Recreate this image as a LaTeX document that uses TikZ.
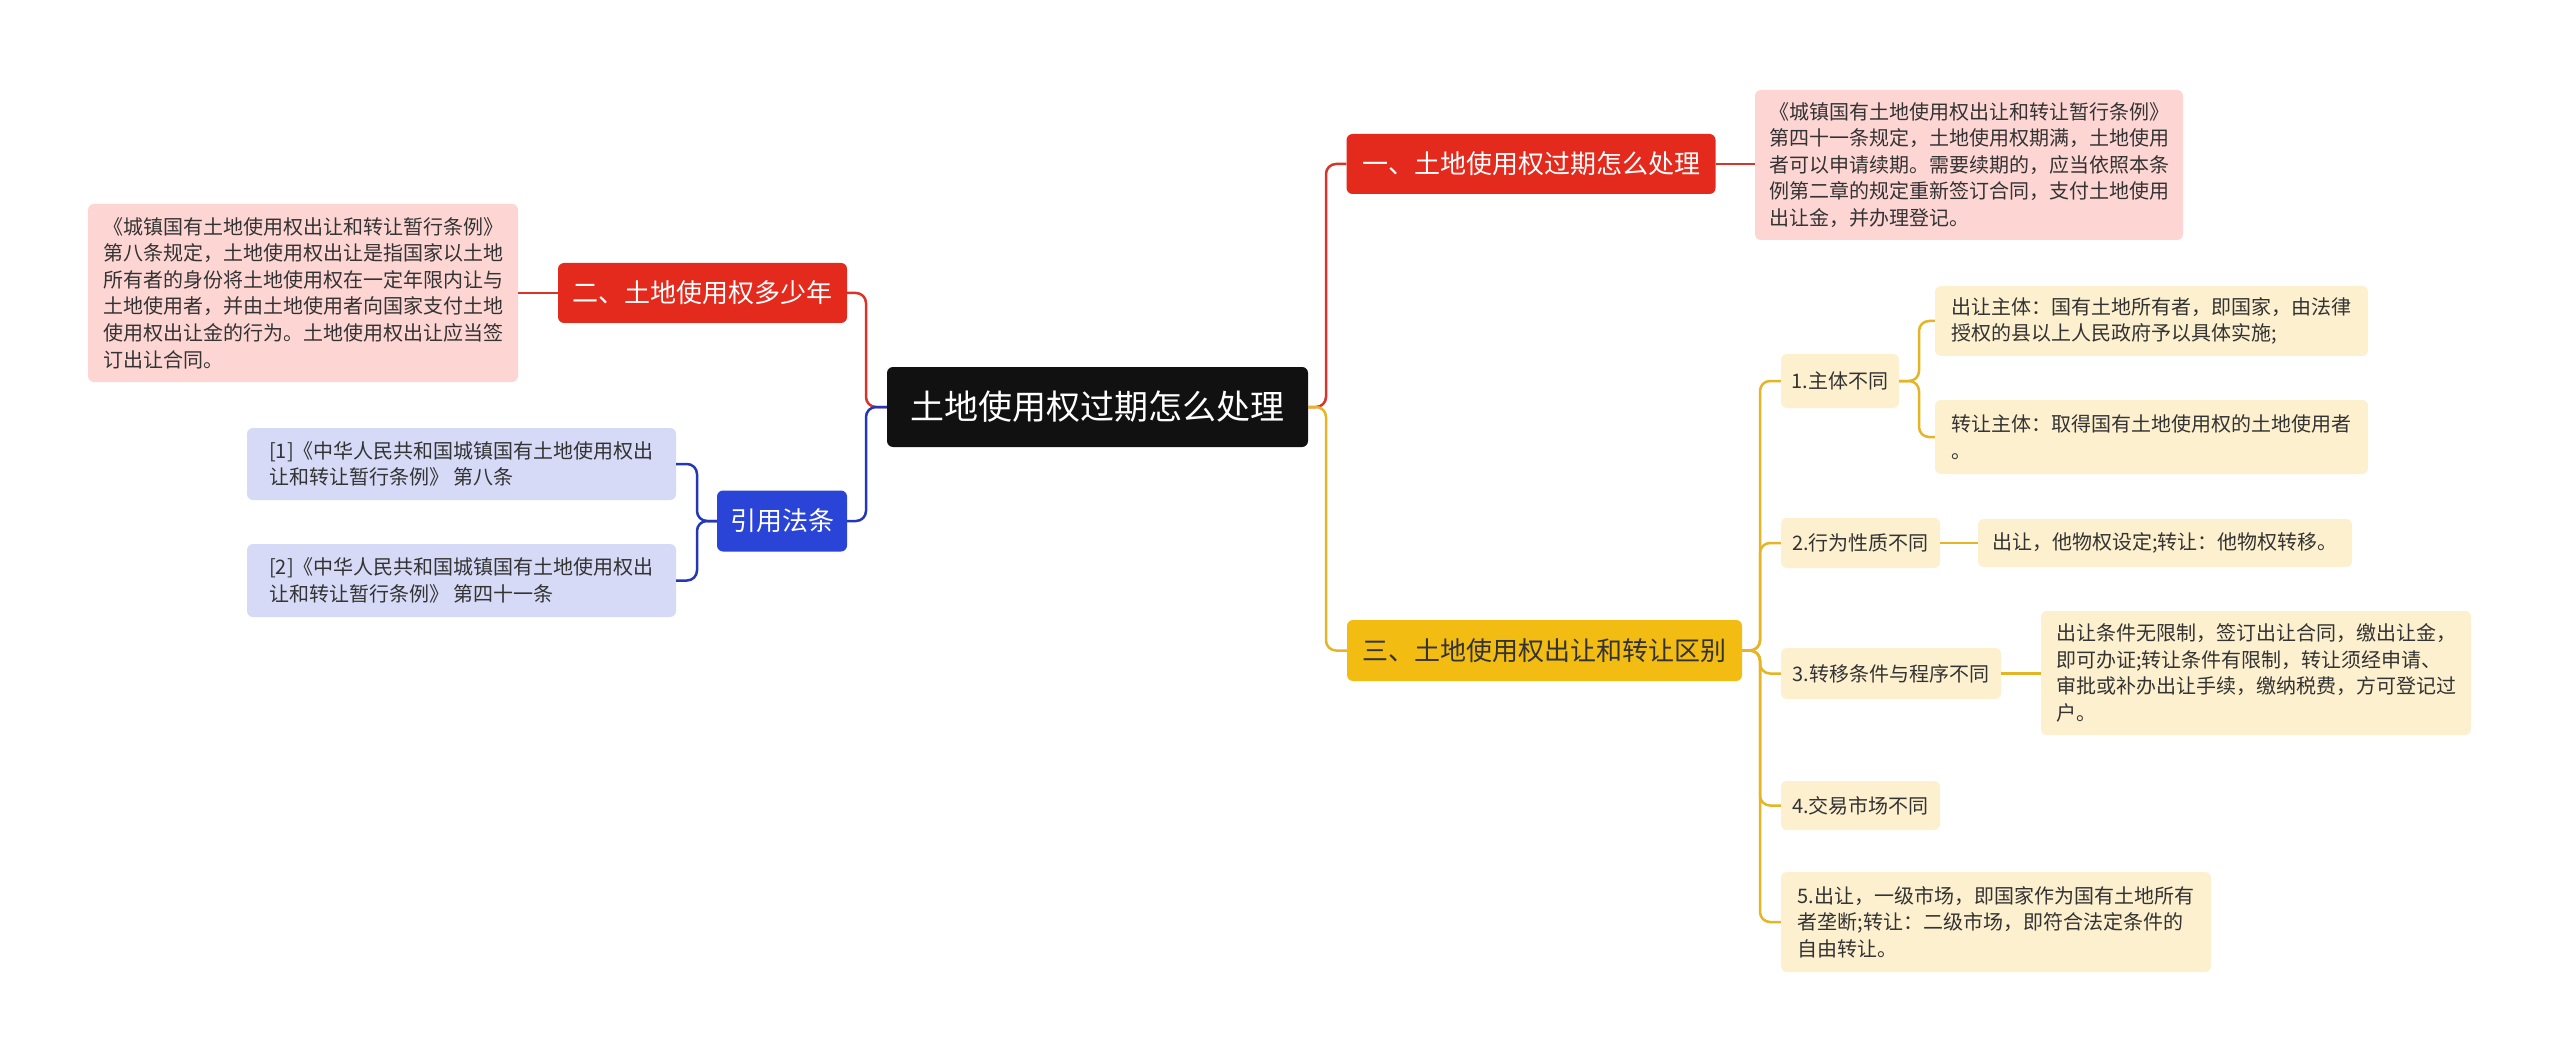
\documentclass[tikz,border=0pt]{standalone}
\usepackage{fontspec}
\setmainfont{Noto Sans CJK SC}
\definecolor{rootc}{HTML}{111111}
\definecolor{redc}{HTML}{E42A1D}
\definecolor{pinkc}{HTML}{FDD6D4}
\definecolor{bluec}{HTML}{2B44D8}
\definecolor{lavc}{HTML}{D6DAF6}
\definecolor{yelc}{HTML}{F2BC13}
\definecolor{lyelc}{HTML}{FDF0CF}
\definecolor{redl}{HTML}{D8342A}
\definecolor{bluel}{HTML}{2238B8}
\definecolor{yell}{HTML}{E6B526}
\definecolor{textc}{HTML}{333333}
\begin{document}
\begin{tikzpicture}[x=1pt,y=-1pt,
  box/.style={rounded corners=6pt, inner xsep=10pt, inner ysep=3pt, align=left},
  rootbox/.style={box, fill=rootc, text=white, font=\fontsize{34}{40}\selectfont},
  mainbox/.style={box, text=white, font=\fontsize{26}{32}\selectfont},
  leafbox/.style={box, text=textc, font=\fontsize{20}{26.6}\selectfont},
  link/.style={line width=2.5pt, rounded corners=10pt}]
\useasboundingbox[fill=white] (0,0) rectangle (2560,1059);

% nodes
\node[rootbox, minimum width=421pt, minimum height=80pt] (root) at (1097.5,407) {土地使用权过期怎么处理};
\node[mainbox, fill=redc, minimum width=369pt, minimum height=60pt] (n1) at (1531,164) {一、土地使用权过期怎么处理};
\node[mainbox, fill=redc, minimum width=289pt, minimum height=60pt] (n2) at (702.5,293) {二、土地使用权多少年};
\node[mainbox, fill=bluec, minimum width=130pt, minimum height=61pt] (n4) at (782,521) {引用法条};
\node[mainbox, fill=yelc, text=textc, minimum width=395pt, minimum height=61pt] (n3) at (1544.5,650.5) {三、土地使用权出让和转让区别};

\node[leafbox, fill=pinkc, minimum width=428pt, minimum height=150pt] (l1) at (1969,165) {《城镇国有土地使用权出让和转让暂行条例》\\第四十一条规定，土地使用权期满，土地使用\\者可以申请续期。需要续期的，应当依照本条\\例第二章的规定重新签订合同，支付土地使用\\出让金，并办理登记。};
\node[leafbox, fill=pinkc, minimum width=430pt, minimum height=178pt] (l2) at (303,293) {《城镇国有土地使用权出让和转让暂行条例》\\第八条规定，土地使用权出让是指国家以土地\\所有者的身份将土地使用权在一定年限内让与\\土地使用者，并由土地使用者向国家支付土地\\使用权出让金的行为。土地使用权出让应当签\\订出让合同。};
\node[leafbox, fill=lavc, minimum width=429pt, minimum height=72pt] (r1) at (461.5,464) {[1]《中华人民共和国城镇国有土地使用权出\\让和转让暂行条例》 第八条};
\node[leafbox, fill=lavc, minimum width=429pt, minimum height=73pt] (r2) at (461.5,580.5) {[2]《中华人民共和国城镇国有土地使用权出\\让和转让暂行条例》 第四十一条};

\node[leafbox, fill=lyelc, minimum width=118pt, minimum height=54pt] (c1) at (1840,381) {1.主体不同};
\node[leafbox, fill=lyelc, minimum width=433pt, minimum height=70pt] (c1a) at (2151.5,321) {出让主体：国有土地所有者，即国家，由法律\\授权的县以上人民政府予以具体实施;};
\node[leafbox, fill=lyelc, minimum width=433pt, minimum height=74pt] (c1b) at (2151.5,437) {转让主体：取得国有土地使用权的土地使用者\\。};
\node[leafbox, fill=lyelc, minimum width=159pt, minimum height=50pt] (c2) at (1860.5,543) {2.行为性质不同};
\node[leafbox, fill=lyelc, minimum width=374pt, minimum height=48pt] (c2a) at (2165,543) {出让，他物权设定;转让：他物权转移。};
\node[leafbox, fill=lyelc, minimum width=220pt, minimum height=51pt] (c3) at (1891,673.5) {3.转移条件与程序不同};
\node[leafbox, fill=lyelc, minimum width=430pt, minimum height=124pt] (c3a) at (2256,673) {出让条件无限制，签订出让合同，缴出让金，\\即可办证;转让条件有限制，转让须经申请、\\审批或补办出让手续，缴纳税费，方可登记过\\户。};
\node[leafbox, fill=lyelc, minimum width=159pt, minimum height=49pt] (c4) at (1860.5,805.5) {4.交易市场不同};
\node[leafbox, fill=lyelc, minimum width=430pt, minimum height=100pt] (c5) at (1996,922) {5.出让，一级市场，即国家作为国有土地所有\\者垄断;转让：二级市场，即符合法定条件的\\自由转让。};

% bus coordinates
\coordinate (rr) at (1326,407);
\coordinate (rl) at (866,407);
\coordinate (b4) at (697,521);
\coordinate (b3) at (1760,650.5);
\coordinate (b1) at (1919,381);

% connectors
\draw[link, redl] (root.east) -- (rr) |- (n1.west);
\draw[link, yell] (root.east) -- (rr) |- (n3.west);
\draw[link, redl] (root.west) -- (rl) |- (n2.east);
\draw[link, bluel] (root.west) -- (rl) |- (n4.east);
\draw[link, redl] (n1.east) -- (n1.east -| l1.west);
\draw[link, redl] (n2.west) -- (n2.west -| l2.east);
\draw[link, bluel] (n4.west) -- (b4) |- (r1.east);
\draw[link, bluel] (n4.west) -- (b4) |- (r2.east);
\draw[link, yell] (n3.east) -- (b3) |- (c1.west);
\draw[link, yell] (n3.east) -- (b3) |- (c2.west);
\draw[link, yell] (n3.east) -- (b3) |- (c3.west);
\draw[link, yell] (n3.east) -- (b3) |- (c4.west);
\draw[link, yell] (n3.east) -- (b3) |- (c5.west);
\draw[link, yell] (c1.east) -- (b1) |- (c1a.west);
\draw[link, yell] (c1.east) -- (b1) |- (c1b.west);
\draw[link, yell] (c2.east) -- (c2.east -| c2a.west);
\draw[link, yell] (c3.east) -- (c3.east -| c3a.west);
\end{tikzpicture}
\end{document}
